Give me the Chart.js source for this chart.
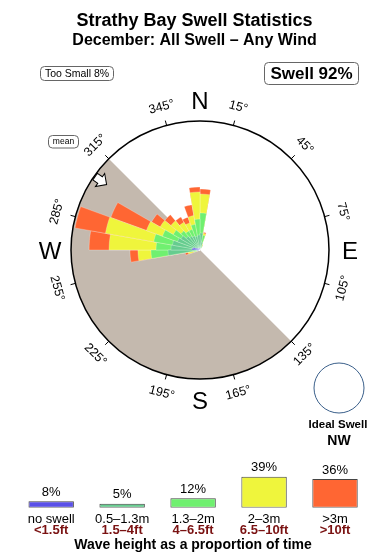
<!DOCTYPE html>
<html>
<head>
<meta charset="utf-8">
<script src="https://cdn.jsdelivr.net/npm/chart.js@4.4.1/dist/chart.umd.min.js"></script>
<style>
  html, body { margin: 0; padding: 0; background: #fff; }
  #wrap { position: relative; width: 390px; height: 560px; }
  #rose { position: absolute; left: 0; top: 0; }
  #bands { position: absolute; left: 0; top: 440px; }
</style>
</head>
<body>
<div id="wrap">
  <canvas id="rose" width="390" height="560"></canvas>
  <canvas id="bands" width="390" height="120"></canvas>
</div>
<script>
// 10 degree direction bins, clockwise from north
const directionBins = [
  '0°', '10°', '20°', '30°', '40°', '50°', '60°', '70°', '80°', '90°', '100°', '110°',
  '120°', '130°', '140°', '150°', '160°', '170°', '180°', '190°', '200°', '210°', '220°', '230°',
  '240°', '250°', '260°', '270°', '280°', '290°', '300°', '310°', '320°', '330°', '340°', '350°'
];

// length of each wave height band per bin (% of the outer ring)
const noSwell = [
  0.8, 0.8, 0, 0, 0, 0, 0, 0, 0, 0, 0, 0,
  0, 0, 0, 0, 0, 0, 0, 0, 0, 0, 0, 0,
  0, 0, 2.3, 6.2, 5.4, 3.1, 1.6, 1.6, 1.6, 1.6, 1.6, 1.6
];
const swellSmall = [
  12.4, 5.4, 2.3, 0, 0, 0, 0, 0, 0, 0, 0, 0,
  0, 0, 0, 0, 0, 0, 0, 0, 0, 0, 0, 0,
  0, 2.3, 22.5, 16.3, 16.3, 15.5, 15.5, 12.4, 10.8, 10.0, 9.3, 10.0
];
const swellMid = [
  15.5, 5.4, 1.6, 0, 0, 0, 0, 0, 0, 0, 0, 0,
  0, 0, 0, 0, 0, 0, 0, 0, 0, 0, 0, 0,
  0, 2.4, 13.2, 11.6, 14.7, 12.4, 6.9, 5.4, 4.7, 5.5, 9.3, 12.4
];
const swellBig = [
  14.7, 1.6, 0.8, 0, 0, 0, 0, 0, 0, 0, 0, 0,
  0, 0, 0, 0, 0, 0, 0, 0, 0, 0, 0, 0,
  0, 4.6, 10.1, 36.4, 38.0, 13.2, 11.7, 10.1, 7.7, 5.4, 6.9, 21.0
];
const swellHuge = [
  3.9, 0.8, 0, 0, 0, 0, 0, 0, 0, 0, 0, 0,
  0, 0, 0, 0, 0, 0, 0, 0, 0, 0, 0, 0,
  0, 2.3, 6.2, 15.5, 24.0, 29.4, 7.7, 6.2, 4.7, 4.6, 8.6, 3.8
];

// legend bands
const bandNames = ['no swell', '0.5–1.3m', '1.3–2m', '2–3m', '>3m'];
const bandFeet = ['<1.5ft', '1.5–4ft', '4–6.5ft', '6.5–10ft', '>10ft'];
const bandShare = [8, 5, 12, 39, 36];
const bandColours = ['#5a50e8', '#66cc8f', '#70f070', '#eff53c', '#ff6633'];

const degreeTicks = [15, 45, 75, 105, 135, 165, 195, 225, 255, 285, 315, 345];
const compassPoints = ['N', 'E', 'S', 'W'];
const shelteredSector = [135, 315];
const meanDirection = 305;
const tooSmallShare = 8;
const swellShare = 92;
const idealSwell = 'NW';

const FONT = '"Liberation Sans", Arial, Helvetica, sans-serif';
Chart.defaults.font.family = FONT;
Chart.defaults.color = '#000';

// compass bearing -> canvas angle
const rad = deg => (deg - 90) * Math.PI / 180;

// polar area can't stack, so draw running totals on top of each other
let running = directionBins.map(() => 0);
const stacked = [noSwell, swellSmall, swellMid, swellBig, swellHuge].map(band => {
  running = running.map((v, i) => +(v + band[i]).toFixed(1));
  return running;
});

function box(ctx, x, y, w, h, text, font, ty) {
  ctx.beginPath();
  ctx.roundRect(x, y, w, h, 4);
  ctx.strokeStyle = '#666';
  ctx.lineWidth = 1;
  ctx.stroke();
  ctx.font = font;
  ctx.fillText(text, x + w / 2, ty);
}

const roseDecor = {
  id: 'roseDecor',
  beforeDatasetsDraw(chart) {
    const ctx = chart.ctx;
    const r = chart.scales.r;
    ctx.save();
    ctx.beginPath();
    ctx.moveTo(r.xCenter, r.yCenter);
    ctx.arc(r.xCenter, r.yCenter, r.drawingArea, rad(shelteredSector[0]), rad(shelteredSector[1]));
    ctx.closePath();
    ctx.fillStyle = '#c4b9ae';
    ctx.fill();
    ctx.restore();
  },
  afterDraw(chart) {
    const ctx = chart.ctx;
    const r = chart.scales.r;
    const cx = r.xCenter, cy = r.yCenter, R = r.drawingArea;
    ctx.save();
    ctx.fillStyle = '#000';
    ctx.textAlign = 'center';
    ctx.textBaseline = 'middle';

    // degree ticks and labels round the ring
    ctx.strokeStyle = '#000';
    ctx.lineWidth = 1;
    degreeTicks.forEach(d => {
      const a = rad(d);
      ctx.beginPath();
      ctx.moveTo(cx + Math.cos(a) * R, cy + Math.sin(a) * R);
      ctx.lineTo(cx + Math.cos(a) * (R + 5), cy + Math.sin(a) * (R + 5));
      ctx.stroke();
      const rot = ((d + 90) % 180) - 90;
      ctx.save();
      ctx.translate(cx + Math.cos(a) * (R + 19), cy + Math.sin(a) * (R + 19));
      ctx.rotate(rot * Math.PI / 180);
      ctx.font = '12.5px ' + FONT;
      ctx.fillText(d + '°', 0, 0);
      ctx.restore();
    });

    // N E S W
    ctx.font = '24px ' + FONT;
    compassPoints.forEach((p, i) => {
      const a = rad(i * 90);
      ctx.fillText(p, cx + Math.cos(a) * (R + 21), cy + Math.sin(a) * (R + 21) + 2);
    });

    // mean direction arrow, pointing inwards from the ring
    const am = rad(meanDirection);
    ctx.save();
    ctx.translate(cx + Math.cos(am) * R, cy + Math.sin(am) * R);
    ctx.rotate(am + Math.PI);
    ctx.beginPath();
    [[1, -4], [7, -4], [7, -8], [15, 0], [7, 8], [7, 4], [1, 4]].forEach(([u, v], i) => {
      if (i === 0) ctx.moveTo(u, v); else ctx.lineTo(u, v);
    });
    ctx.closePath();
    ctx.fillStyle = '#fff';
    ctx.fill();
    ctx.strokeStyle = '#000';
    ctx.stroke();
    ctx.restore();

    // titles
    ctx.font = 'bold 18px ' + FONT;
    ctx.fillText('Strathy Bay Swell Statistics', 194.5, 21);
    ctx.font = 'bold 16px ' + FONT;
    ctx.fillText('December: All Swell – Any Wind', 194.5, 41);

    // boxes
    box(ctx, 40.5, 66.5, 73, 14, 'Too Small ' + tooSmallShare + '%', '10.5px ' + FONT, 73.8);
    box(ctx, 264.5, 62.5, 94, 22, 'Swell ' + swellShare + '%', 'bold 17px ' + FONT, 74);
    box(ctx, 48.5, 135.5, 30, 12.5, 'mean', '8.5px ' + FONT, 142);

    // ideal swell
    ctx.beginPath();
    ctx.arc(339, 388, 25, 0, Math.PI * 2);
    ctx.strokeStyle = '#3a5f8a';
    ctx.stroke();
    ctx.font = 'bold 11.5px ' + FONT;
    ctx.fillText('Ideal Swell', 338, 425);
    ctx.font = 'bold 14px ' + FONT;
    ctx.fillText(idealSwell, 339, 441);
    ctx.restore();
  }
};

new Chart(document.getElementById('rose'), {
  type: 'polarArea',
  data: {
    labels: directionBins,
    datasets: stacked.map((vals, k) => ({
      label: bandNames[k],
      data: vals,
      backgroundColor: bandColours[k],
      borderColor: 'rgba(255,255,255,0.5)',
      borderWidth: 0.5
    }))
  },
  options: {
    responsive: false,
    animation: false,
    layout: { padding: { left: 71, right: 60, top: 121, bottom: 181 } },
    plugins: { legend: { display: false }, tooltip: { enabled: false } },
    scales: {
      r: {
        min: 0,
        max: 100,
        startAngle: 0,
        ticks: { display: false, stepSize: 100 },
        grid: { circular: true, color: '#000', lineWidth: 1.5, z: 1 },
        angleLines: { display: false },
        pointLabels: { display: false }
      }
    }
  },
  plugins: [roseDecor]
});

// percentages above the legend bars, feet under the metre labels
const bandText = {
  id: 'bandText',
  afterDraw(chart) {
    const ctx = chart.ctx;
    const x = chart.scales.x;
    ctx.save();
    ctx.textAlign = 'center';
    ctx.textBaseline = 'middle';
    ctx.font = '13px ' + FONT;
    ctx.fillStyle = '#000';
    chart.getDatasetMeta(0).data.forEach((bar, i) => {
      ctx.fillText(bandShare[i] + '%', bar.x, bar.y - 9);
    });
    ctx.font = 'bold 13px ' + FONT;
    ctx.fillStyle = '#7a1212';
    bandFeet.forEach((t, i) => {
      ctx.fillText(t, x.getPixelForValue(i), x.top + 23);
    });
    ctx.restore();
  }
};

new Chart(document.getElementById('bands'), {
  type: 'bar',
  data: {
    labels: bandNames,
    datasets: [{
      data: bandShare,
      backgroundColor: bandColours,
      borderColor: '#444',
      borderWidth: 1,
      borderSkipped: false,
      barPercentage: 0.64,
      categoryPercentage: 1
    }]
  },
  options: {
    responsive: false,
    animation: false,
    layout: { padding: { left: 15.7, right: 19.5, top: 0, bottom: 0 } },
    plugins: { legend: { display: false }, tooltip: { enabled: false } },
    scales: {
      y: { display: false, min: 0, max: 85 },
      x: {
        grid: { display: false, drawTicks: false },
        border: { display: false },
        ticks: { font: { size: 13, lineHeight: 1 }, padding: 4.8, maxRotation: 0 },
        title: {
          display: true,
          text: 'Wave height as a proportion of time',
          font: { size: 14, weight: 'bold' },
          padding: { top: 6.3, bottom: 6.6 }
        }
      }
    }
  },
  plugins: [bandText]
});
</script>
</body>
</html>
